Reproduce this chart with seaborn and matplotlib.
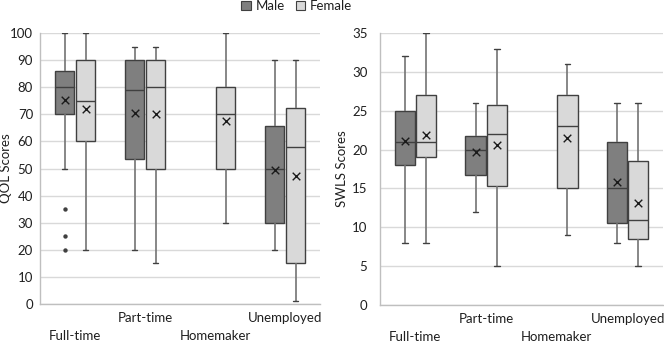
import numpy as np
import pandas as pd
import matplotlib
matplotlib.use("Agg")
import matplotlib.pyplot as plt
from matplotlib.patches import Patch
import seaborn as sns

categories = ["Full-time", "Part-time", "Homemaker", "Unemployed"]
genders = ["Male", "Female"]
nan = np.nan

# QOL five-number summaries (min, q1, median, q3, max) and means
qol_male_min = [50, 20, nan, 20]
qol_male_q1 = [70, 53.5, nan, 30]
qol_male_med = [80, 79, nan, 50]
qol_male_q3 = [86, 90, nan, 65.5]
qol_male_max = [100, 95, nan, 90]
qol_male_mean = [75.4, 70.6, nan, 49.6]
qol_female_min = [20, 15, 30, 1]
qol_female_q1 = [60, 50, 50, 15]
qol_female_med = [75, 80, 70, 58]
qol_female_q3 = [90, 90, 80, 72.5]
qol_female_max = [100, 95, 100, 90]
qol_female_mean = [72, 70, 67.6, 47.3]
qol_outlier_cat = ["Full-time", "Full-time", "Full-time"]
qol_outlier_gender = ["Male", "Male", "Male"]
qol_outlier_val = [35, 25, 20]

# SWLS five-number summaries and means
swls_male_min = [8, 12, nan, 8]
swls_male_q1 = [18, 16.75, nan, 10.5]
swls_male_med = [21, 20, nan, 15]
swls_male_q3 = [25, 21.75, nan, 21]
swls_male_max = [32, 26, nan, 26]
swls_male_mean = [21.1, 19.7, nan, 15.8]
swls_female_min = [8, 5, 9, 5]
swls_female_q1 = [19, 15.25, 15, 8.5]
swls_female_med = [21, 22, 23, 11]
swls_female_q3 = [27, 25.75, 27, 18.5]
swls_female_max = [35, 33, 31, 26]
swls_female_mean = [21.9, 20.6, 21.5, 13.1]

yticks_qol = list(range(0, 101, 10))
yticks_swls = list(range(0, 36, 5))

MALE_C = "#7f7f7f"
FEMALE_C = "#d9d9d9"
EDGE = "#404040"
WHISK = "#737373"
GRID = "#d9d9d9"
TXT = "#1f1f1f"
WIDTH = 0.6
GAP = 0.05
FS = 9.5


def build(summ):
    rows = []
    for g, parts in summ.items():
        for i, c in enumerate(categories):
            vals = [p[i] for p in parts]
            if np.isnan(vals[0]):
                continue
            for v in vals:
                rows.append({"cat": c, "gender": g, "val": v})
    return pd.DataFrame(rows)


def means_df(means):
    rows = []
    nh = len(genders)
    for j, g in enumerate(genders):
        off = WIDTH / nh * (j - (nh - 1) / 2)
        for i, c in enumerate(categories):
            m = means[g][i]
            if np.isnan(m):
                continue
            rows.append({"x": i + off, "val": m})
    return pd.DataFrame(rows)


sns.set_theme(style="white")
plt.rcParams["font.family"] = ["Lato", "DejaVu Sans"]

fig = plt.figure(figsize=(6.64, 3.45), dpi=100)
axL = fig.add_axes([40 / 664, 41 / 345, 280 / 664, 271 / 345])
axR = fig.add_axes([380 / 664, 40 / 345, 283 / 664, 272 / 345])

panels = [
    (axL,
     {"Male": [qol_male_min, qol_male_q1, qol_male_med, qol_male_q3, qol_male_max],
      "Female": [qol_female_min, qol_female_q1, qol_female_med, qol_female_q3, qol_female_max]},
     {"Male": qol_male_mean, "Female": qol_female_mean},
     "QOL Scores", yticks_qol, True, 5, -0.10),
    (axR,
     {"Male": [swls_male_min, swls_male_q1, swls_male_med, swls_male_q3, swls_male_max],
      "Female": [swls_female_min, swls_female_q1, swls_female_med, swls_female_q3, swls_female_max]},
     {"Male": swls_male_mean, "Female": swls_female_mean},
     "SWLS Scores", yticks_swls, False, 9, -0.113),
]

for ax, summ, means, ylabel, yt, has_out, ypad, ylab_x in panels:
    ax.set_axisbelow(True)
    ax.yaxis.grid(True, color=GRID, linewidth=1.0)
    df = build(summ)
    sns.boxplot(data=df, x="cat", y="val", hue="gender", order=categories,
                hue_order=genders, palette={"Male": MALE_C, "Female": FEMALE_C},
                whis=(0, 100), width=WIDTH, gap=GAP, showfliers=False,
                linecolor=EDGE, linewidth=1.0, legend=False, ax=ax,
                capwidths=0.08,
                whiskerprops={"color": WHISK, "linewidth": 1.2},
                capprops={"color": EDGE, "linewidth": 1.0},
                medianprops={"color": EDGE, "linewidth": 1.0})
    mdf = means_df(means)
    sns.scatterplot(data=mdf, x="x", y="val", marker="x", color="#1a1a1a",
                    s=30, linewidth=1.0, legend=False, ax=ax, zorder=5)
    if has_out:
        nh = len(genders)
        xs = [categories.index(c) + WIDTH / nh * (genders.index(g) - (nh - 1) / 2)
              for c, g in zip(qol_outlier_cat, qol_outlier_gender)]
        odf = pd.DataFrame({"x": xs, "val": qol_outlier_val})
        sns.scatterplot(data=odf, x="x", y="val", marker="o", color="#404040",
                        s=10, linewidth=0, legend=False, ax=ax, zorder=5)
    ax.set_xlim(-0.5, len(categories) - 0.5)
    ax.set_ylim(yt[0], yt[-1])
    ax.set_yticks(yt)
    ax.set_yticklabels([str(v) for v in yt], fontsize=FS, color=TXT)
    ax.set_xticks(range(len(categories)))
    ax.set_xticklabels([("\n" + c) if i % 2 == 0 else c for i, c in enumerate(categories)],
                       fontsize=FS, color=TXT, linespacing=1.55)
    ax.tick_params(axis="both", length=0)
    ax.tick_params(axis="x", pad=6)
    ax.tick_params(axis="y", pad=ypad)
    ax.set_xlabel("")
    ax.set_ylabel(ylabel, fontsize=FS, color=TXT)
    ax.yaxis.set_label_coords(ylab_x, 0.5)
    for s in ["top", "right"]:
        ax.spines[s].set_visible(False)
    for s in ["left", "bottom"]:
        ax.spines[s].set_color("#bfbfbf")
        ax.spines[s].set_linewidth(1.0)

handles = [Patch(facecolor=MALE_C, edgecolor=EDGE, linewidth=0.8, label="Male"),
           Patch(facecolor=FEMALE_C, edgecolor=EDGE, linewidth=0.8, label="Female")]
fig.legend(handles=handles, loc="upper center", bbox_to_anchor=(0.447, 1.035), ncol=2,
           frameon=False, fontsize=FS, handlelength=0.7, handleheight=0.7,
           handletextpad=0.4, columnspacing=0.8, labelcolor=TXT)

fig.savefig("out.png", dpi=100)
